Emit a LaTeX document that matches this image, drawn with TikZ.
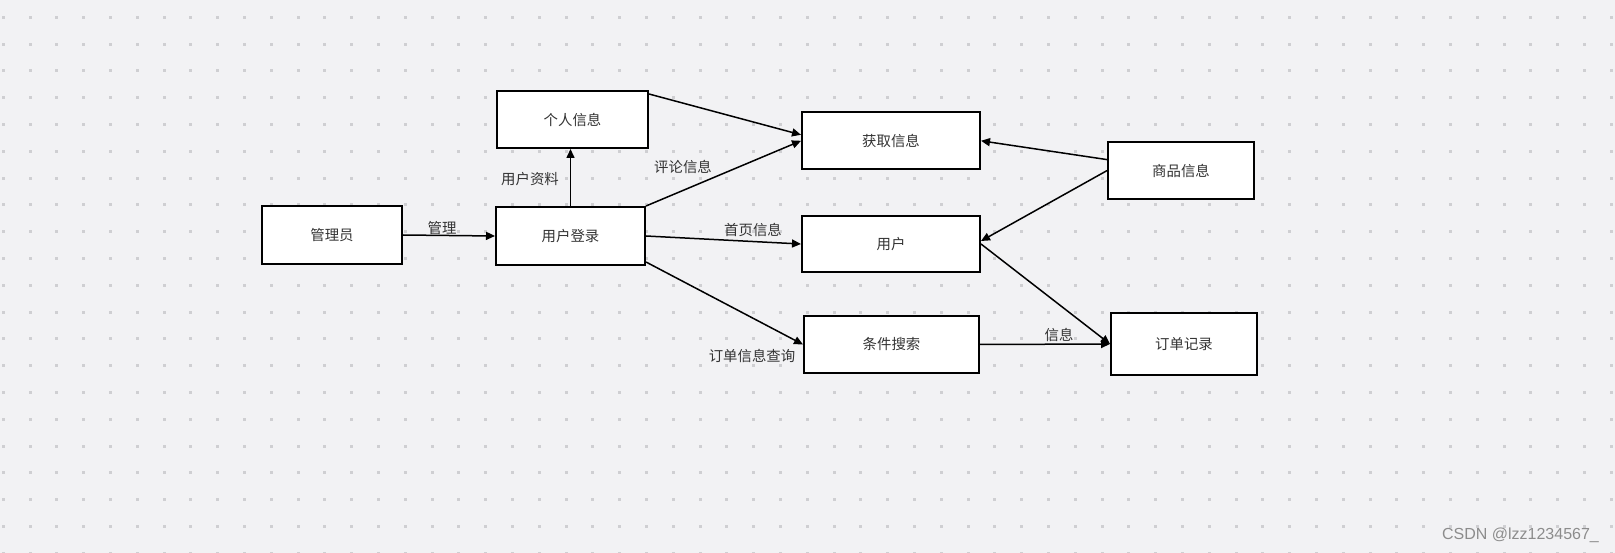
\documentclass[tikz,border=0pt]{standalone}
\usepackage{fontspec}
\setmainfont{Noto Sans CJK SC}
\newfontfamily\wmfont{Liberation Sans}
\usepackage{xcolor}
\usetikzlibrary{arrows.meta}
\definecolor{bgcol}{HTML}{F2F2F4}
\definecolor{dotcol}{HTML}{CFCFD2}
\definecolor{txtcol}{HTML}{333333}

\begin{document}
\begin{tikzpicture}[x=1pt, y=-1pt]
    \tikzset{box/.style={draw, line width=2pt, fill=white, inner sep=0pt, minimum height=57pt, text=txtcol, font=\fontsize{14.4}{16}\selectfont},
             lbl/.style={inner sep=0pt, text=txtcol, font=\fontsize{14.4}{16}\selectfont},
             arr/.style={line width=1.5pt, -{Triangle[length=9pt, width=8pt]}}}
    
    \useasboundingbox[fill=bgcol] (0,0) rectangle (1615,553);
    \foreach \i in {0,...,60}
        \foreach \j in {0,...,20}
            \fill[dotcol] (1.8+26.8*\i,15.8+26.8*\j) rectangle ++(3,3);
    
    \node[box, minimum width=140pt, minimum height=58pt] (v1) at (332,235) {管理员};
    \node[box, minimum width=151pt] (v2) at (572.5,119.5) {个人信息};
    \node[box, minimum width=149pt, minimum height=58pt] (v3) at (570.5,236) {用户登录};
    \node[box, minimum width=178pt] (v4) at (891,140.8) {获取信息};
    \node[box, minimum width=178pt, minimum height=56pt] (v5) at (891,244) {用户};
    \node[box, minimum width=175pt] (v6) at (891.5,344.5) {条件搜索};
    \node[box, minimum width=146pt] (v7) at (1181,170.6) {商品信息};
    \node[box, minimum width=146pt, minimum height=62pt] (v8) at (1184,344) {订单记录};
    
    \draw[arr] (v1.east) -- (v3.west);
    \draw[arr] (v3.north) -- (v3.north |- v2.south);
    \draw[arr] ([yshift=-4pt]v2.north east) -- ([yshift=6pt]v4.west);
    \draw[arr] (v3.north east) -- (v4.west);
    \draw[arr] (v3.east) -- (v5.west);
    \draw[arr] ([yshift=4pt]v3.south east) -- (v6.west);
    \draw[arr] ([yshift=11pt]v7.west) -- (v4.east);
    \draw[arr] (v7.west) -- ([yshift=3pt]v5.east);
    \draw[arr] (v5.east) -- (v8.west);
    \draw[arr] (v6.east) -- (v8.west);
    
    \node[lbl] (l1) at (442,228) {管理};
    \node[lbl] (l2) at (530,179) {用户资料};
    \node[lbl] (l3) at (683,167) {评论信息};
    \node[lbl] (l4) at (753,230) {首页信息};
    \node[lbl] (l5) at (752,356) {订单信息查询};
    \node[lbl] (l6) at (1059,335) {信息};
    
    \node[inner sep=0pt, text=black!45, font=\wmfont\fontsize{16}{18}\selectfont] (wm) at (1520.5,535) {CSDN @lzz1234567\_};
\end{tikzpicture}
\end{document}
